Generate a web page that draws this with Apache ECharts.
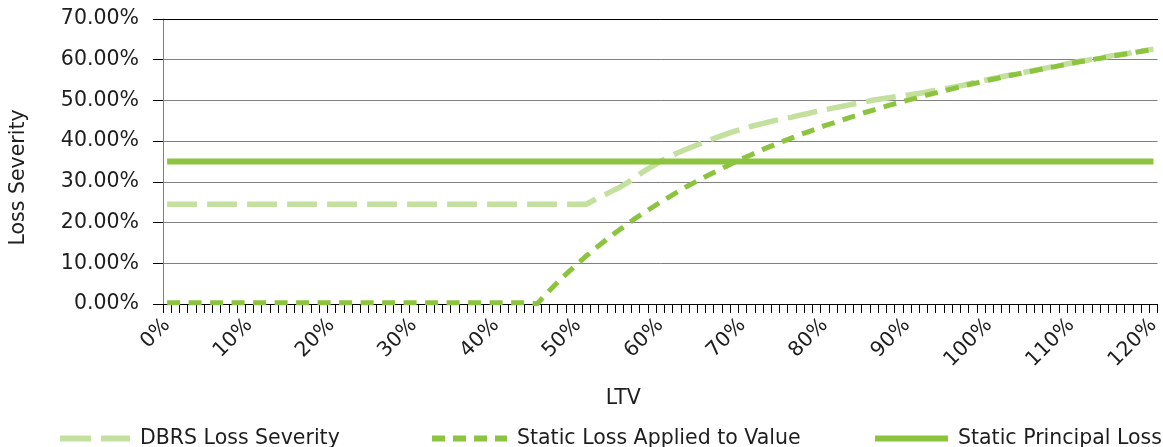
<!DOCTYPE html>
<html>
<head>
<meta charset="utf-8">
<title>Loss Severity by LTV</title>
<script src="https://cdn.jsdelivr.net/npm/echarts@6/dist/echarts.min.js"></script>
<style>
  html, body { margin: 0; padding: 0; background: #ffffff; }
  #chart { width: 1163px; height: 447px; }
</style>
</head>
<body>
<div id="chart"></div>
<script>
// LTV buckets, 0% to 120% in 1% steps
const ltvLabels = [
  '0%','1%','2%','3%','4%','5%','6%','7%','8%','9%',
  '10%','11%','12%','13%','14%','15%','16%','17%','18%','19%',
  '20%','21%','22%','23%','24%','25%','26%','27%','28%','29%',
  '30%','31%','32%','33%','34%','35%','36%','37%','38%','39%',
  '40%','41%','42%','43%','44%','45%','46%','47%','48%','49%',
  '50%','51%','52%','53%','54%','55%','56%','57%','58%','59%',
  '60%','61%','62%','63%','64%','65%','66%','67%','68%','69%',
  '70%','71%','72%','73%','74%','75%','76%','77%','78%','79%',
  '80%','81%','82%','83%','84%','85%','86%','87%','88%','89%',
  '90%','91%','92%','93%','94%','95%','96%','97%','98%','99%',
  '100%','101%','102%','103%','104%','105%','106%','107%','108%','109%',
  '110%','111%','112%','113%','114%','115%','116%','117%','118%','119%',
  '120%'
];

// DBRS Loss Severity (%)
const dbrsLossSeverity = [
  24.5,24.5,24.5,24.5,24.5,24.5,24.5,24.5,24.5,24.5,
  24.5,24.5,24.5,24.5,24.5,24.5,24.5,24.5,24.5,24.5,
  24.5,24.5,24.5,24.5,24.5,24.5,24.5,24.5,24.5,24.5,
  24.5,24.5,24.5,24.5,24.5,24.5,24.5,24.5,24.5,24.5,
  24.5,24.5,24.5,24.5,24.5,24.5,24.5,24.5,24.5,24.5,
  24.5,24.5,25.6,26.6,27.6,28.6,29.8,31.2,32.6,33.8,
  35.0,36.1,37.0,37.9,38.7,39.5,40.3,41.0,41.7,42.4,
  43.0,43.6,44.1,44.6,45.1,45.5,45.9,46.4,46.8,47.3,
  47.7,48.1,48.5,48.9,49.3,49.7,50.1,50.4,50.7,51.0,
  51.3,51.6,51.9,52.3,52.6,53.0,53.4,53.8,54.3,54.7,
  55.2,55.6,56.0,56.4,56.8,57.2,57.6,58.0,58.4,58.8,
  59.2,59.6,59.9,60.3,60.6,61.0,61.3,61.6,62.0,62.3,
  62.6
];

// Static Loss Applied to Value (%)
const staticLossApplied = [
  0.3,0.3,0.3,0.3,0.3,0.3,0.3,0.3,0.3,0.3,
  0.3,0.3,0.3,0.3,0.3,0.3,0.3,0.3,0.3,0.3,
  0.3,0.3,0.3,0.3,0.3,0.3,0.3,0.3,0.3,0.3,
  0.3,0.3,0.3,0.3,0.3,0.3,0.3,0.3,0.3,0.3,
  0.3,0.3,0.3,0.3,0.3,0.0,2.2,4.3,6.3,8.2,
  10.0,11.8,13.5,15.1,16.7,18.2,19.6,21.1,22.4,23.7,
  25.0,26.2,27.4,28.6,29.7,30.8,31.8,32.8,33.8,34.8,
  35.7,36.6,37.5,38.4,39.2,40.0,40.8,41.6,42.3,43.0,
  43.8,44.4,45.1,45.8,46.4,47.1,47.7,48.3,48.9,49.4,
  50.0,50.5,51.1,51.6,52.1,52.6,53.1,53.6,54.1,54.5,
  55.0,55.4,55.9,56.3,56.7,57.1,57.5,57.9,58.3,58.7,
  59.1,59.5,59.8,60.2,60.5,60.9,61.2,61.5,61.9,62.2,
  62.5
];

// Static Principal Loss (%), flat across all LTV buckets
const staticPrincipalLoss = 35;
const staticPrincipalSeries = ltvLabels.map(() => staticPrincipalLoss);

// y-axis ticks (%)
const yTicks = [0, 10, 20, 30, 40, 50, 60, 70];

const FONT = '"DejaVu Sans", Verdana, sans-serif';
const FONT_SIZE = 20.5;
const TEXT = '#1e1e1e';
const LIGHT_GREEN = '#c4e09e';
const GREEN = '#8cc43f';

// legend swatches drawn as short line segments
const ICON_LONG_DASH = 'path://M0,0H31V6H0Z M41,0H70V6H41Z';
const ICON_SHORT_DASH = 'path://M0,0H13V6H0Z M21,0H34V6H21Z M42,0H55V6H42Z M63,0H75V6H63Z';
const ICON_SOLID = 'path://M0,0H73V6H0Z';

const chart = echarts.init(document.getElementById('chart'), null, { renderer: 'canvas' });

function legendAt(left, name, icon, width) {
  return {
    top: 428,
    left: left,
    padding: 0,
    itemWidth: width,
    itemHeight: 6,
    selectedMode: false,
    data: [{ name: name, icon: icon }],
    textStyle: { fontFamily: FONT, fontSize: FONT_SIZE, color: TEXT, padding: [0, 0, 0, 5] }
  };
}

chart.setOption({
  animation: false,
  textStyle: { fontFamily: FONT },
  grid: { left: 160, right: 3, top: 19, bottom: 143, containLabel: false },
  legend: [
    legendAt(60, 'DBRS Loss Severity', ICON_LONG_DASH, 70),
    legendAt(432, 'Static Loss Applied to Value', ICON_SHORT_DASH, 75),
    legendAt(875, 'Static Principal Loss', ICON_SOLID, 73)
  ],
  xAxis: [
    {
      type: 'category',
      data: ltvLabels,
      boundaryGap: true,
      name: 'LTV',
      nameLocation: 'middle',
      nameGap: 84,
      nameTextStyle: { fontFamily: FONT, fontSize: FONT_SIZE, color: TEXT, padding: [0, 74, 0, 0] },
      axisLine: { show: true, lineStyle: { color: '#000000', width: 1 } },
      axisTick: { show: true, interval: 0, length: 9, lineStyle: { color: '#000000', width: 1 } },
      axisLabel: {
        interval: 9,
        rotate: 45,
        margin: 18,
        fontFamily: FONT,
        fontSize: FONT_SIZE,
        color: TEXT
      },
      splitLine: { show: false }
    },
    {
      // top border of the plot area
      type: 'category',
      data: ltvLabels,
      position: 'top',
      axisLine: { show: true, lineStyle: { color: '#000000', width: 1 } },
      axisTick: { show: false },
      axisLabel: { show: false },
      splitLine: { show: false }
    }
  ],
  yAxis: {
    type: 'value',
    min: yTicks[0],
    max: yTicks[yTicks.length - 1],
    interval: 10,
    name: 'Loss Severity',
    nameLocation: 'middle',
    nameGap: 134,
    nameTextStyle: { fontFamily: FONT, fontSize: FONT_SIZE, color: TEXT, padding: [0, 32, 0, 0] },
    axisLine: { show: true, lineStyle: { color: '#808080', width: 1 } },
    axisTick: { show: true, length: 10, lineStyle: { color: '#000000', width: 1 } },
    axisLabel: {
      margin: 24,
      fontFamily: FONT,
      fontSize: FONT_SIZE,
      color: TEXT,
      formatter: v => v.toFixed(2) + '%'
    },
    splitLine: { show: true, lineStyle: { color: '#808080', width: 1 } }
  },
  series: [
    {
      name: 'DBRS Loss Severity',
      type: 'line',
      data: dbrsLossSeverity,
      symbol: 'none',
      showSymbol: false,
      color: LIGHT_GREEN,
      lineStyle: { color: LIGHT_GREEN, width: 5.5, type: [30, 10], cap: 'butt' }
    },
    {
      name: 'Static Loss Applied to Value',
      type: 'line',
      data: staticLossApplied,
      symbol: 'none',
      showSymbol: false,
      color: GREEN,
      lineStyle: { color: GREEN, width: 5, type: [13, 8.5], cap: 'butt' }
    },
    {
      name: 'Static Principal Loss',
      type: 'line',
      data: staticPrincipalSeries,
      symbol: 'none',
      showSymbol: false,
      color: GREEN,
      lineStyle: { color: GREEN, width: 6, type: 'solid', cap: 'butt' }
    }
  ]
});
</script>
</body>
</html>
